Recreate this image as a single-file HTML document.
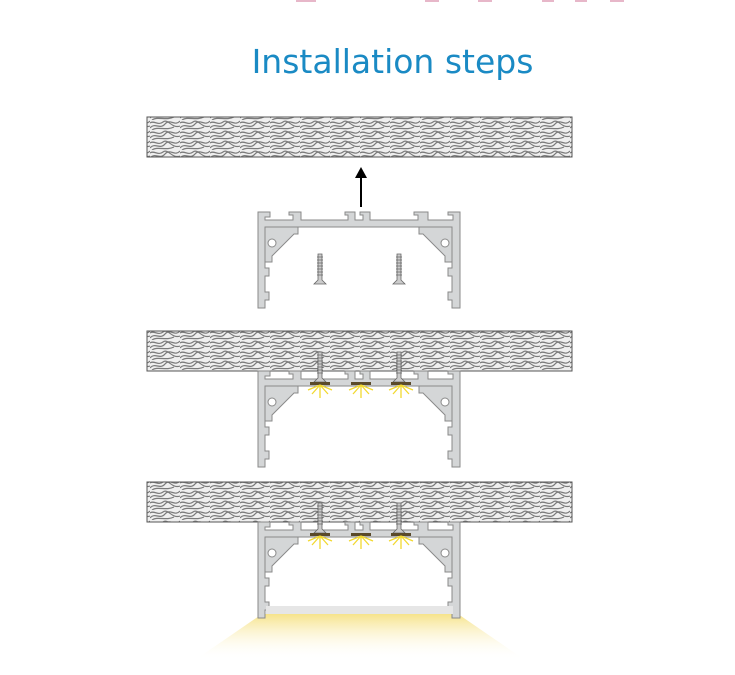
<!DOCTYPE html>
<html><head><style>
body{margin:0;background:#fff;width:735px;height:675px;overflow:hidden;font-family:"Liberation Sans",sans-serif}
.t{position:absolute;left:0;width:785px;text-align:center;top:42px;font-size:33px;color:#1a8ac4;font-family:"DejaVu Sans","Liberation Sans",sans-serif}
</style></head><body>
<div class="t">Installation steps</div>
<svg width="735" height="675" style="position:absolute;left:0;top:0">
<defs>
<pattern id="wood" width="30" height="10" patternUnits="userSpaceOnUse">
<rect width="30" height="10" fill="#efefef"/>
<path d="M0 8 C5 2,10 10,15 4 S25 7,30 1 M0 3 C4 0,8 6,13 2 S22 9,30 6 M2 10 C8 6,16 11,24 7" stroke="#7a7a7a" stroke-width="1.2" fill="none"/>
</pattern>
<linearGradient id="cone" x1="0" y1="0" x2="0" y2="1">
<stop offset="0" stop-color="#f6e38a"/><stop offset="1" stop-color="#fff" stop-opacity="0"/>
</linearGradient>
<g id="prof" fill="#d4d6d7" stroke="#8a8a8a" stroke-width="1">
<path d="M0 0 H12 V5 H7 V8 H35 V3 H31 V0 H43 V8 H90 V3 H87 V0 H97 V8 H105 V3 H102 V0 H112 V8 H160 V3 H156 V0 H170 V8 H195 V3 H190 V0 H202 V96 H194 V88 H190 V80 H194 V64 H190 V56 H194 V48 H194 V15 H7 V48 V56 H11 V64 H7 V80 H11 V88 H7 V96 H0 Z"/>
<path d="M7 15 H40 V22 L36 22 L14 44 V50 H7 Z"/>
<path d="M194 15 H161 V22 L165 22 L187 44 V50 H194 Z"/>
<circle cx="14" cy="31" r="4" fill="#fff"/>
<circle cx="187" cy="31" r="4" fill="#fff"/>
</g>
<g id="screw" stroke="#666" stroke-width="0.8" fill="#ccc">
<path d="M-2 0 H2 V26 L6 30 H-6 L-2 26 Z"/>
<path d="M-3 3 H3 M-3 6 H3 M-3 9 H3 M-3 12 H3 M-3 15 H3 M-3 18 H3 M-3 21 H3" />
</g>
<g id="led">
<rect x="-10" y="0" width="20" height="3" fill="#5a4a2a"/>
<path d="M0 3 V16 M0 3 L-8 12 M0 3 L8 12 M0 3 L-12 8 M0 3 L12 8" stroke="#f2d930" stroke-width="1.3"/>
</g>
</defs>
<g fill="#e7b7c9"><rect x="296" y="0" width="20" height="2"/><rect x="425" y="0" width="14" height="2"/><rect x="478" y="0" width="14" height="2"/><rect x="542" y="0" width="12" height="2"/><rect x="575" y="0" width="12" height="2"/><rect x="610" y="0" width="14" height="2"/></g>
<rect x="147" y="117" width="425" height="40" fill="url(#wood)" stroke="#555"/>
<path d="M361 207 V172" stroke="#000" stroke-width="2"/>
<path d="M355 178 L361 167 L367 178 Z" fill="#000"/>
<use href="#prof" x="258" y="212"/>
<use href="#screw" x="320" y="254"/>
<use href="#screw" x="399" y="254"/>

<rect x="147" y="331" width="425" height="40" fill="url(#wood)" stroke="#555"/>
<use href="#prof" x="258" y="371"/>
<use href="#screw" x="320" y="352"/>
<use href="#screw" x="399" y="352"/>
<use href="#led" x="320" y="382"/><use href="#led" x="361" y="382"/><use href="#led" x="401" y="382"/>

<path d="M262 614 H458 L525 660 H195 Z" fill="url(#cone)"/>
<rect x="147" y="482" width="425" height="40" fill="url(#wood)" stroke="#555"/>
<use href="#prof" x="258" y="522"/>
<rect x="266" y="606" width="187" height="8" fill="#e6e6e6"/>
<use href="#screw" x="320" y="503"/>
<use href="#screw" x="399" y="503"/>
<use href="#led" x="320" y="533"/><use href="#led" x="361" y="533"/><use href="#led" x="401" y="533"/>
</svg>
</body></html>
